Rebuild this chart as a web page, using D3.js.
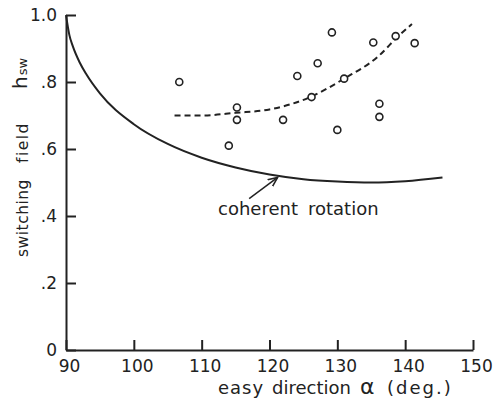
<!DOCTYPE html>
<html>
<head>
<meta charset="utf-8">
<script src="https://cdn.jsdelivr.net/npm/d3@7"></script>
<style>
  body { margin: 0; background: #fff; }
  text { font-family: "DejaVu Sans", sans-serif; fill: #222; }
</style>
</head>
<body>
<script>
// axis ticks
var xTicks = [90, 100, 110, 120, 130, 140, 150];
var yTicks = [0, 0.2, 0.4, 0.6, 0.8, 1.0];
var yTickLabels = ["0", ".2", ".4", ".6", ".8", "1.0"];

// coherent rotation curve (solid)
var crAlpha = [90, 90.5, 91, 92, 93, 95, 100, 105, 110, 115, 120, 125, 130, 135, 140, 145.5];
var crH = [1.0, 0.94, 0.907, 0.859, 0.823, 0.766, 0.674, 0.615, 0.574, 0.545, 0.524, 0.51, 0.503, 0.50, 0.504, 0.515];

// dashed fit through the measurements
var fitAlpha = [106, 110, 115, 120, 126, 131, 136, 139, 141];
var fitH = [0.70, 0.70, 0.708, 0.718, 0.755, 0.81, 0.876, 0.937, 0.973];

// measured points (open circles)
var ptAlpha = [106.7, 115.2, 115.2, 114.0, 122.0, 124.1, 126.2, 127.1, 129.2, 130.0, 131.0, 135.3, 136.2, 136.2, 138.6, 141.4];
var ptH = [0.80, 0.724, 0.687, 0.61, 0.687, 0.818, 0.755, 0.856, 0.948, 0.657, 0.81, 0.918, 0.735, 0.696, 0.937, 0.916];

var width = 495, height = 404;

var svg = d3.select("body")
            .append("svg")
            .attr("width", width)
            .attr("height", height);

var xScale = d3.scaleLinear().domain([90, 150]).range([66, 473]);
var yScale = d3.scaleLinear().domain([0, 1]).range([350, 15]);

// y axis, ticks pointing inward
var yAxis = d3.axisLeft(yScale)
              .tickValues(yTicks)
              .tickFormat(function(d, i) { return yTickLabels[i]; })
              .tickSize(-10)
              .tickSizeOuter(0)
              .tickPadding(9);

var gy = svg.append("g")
   .attr("transform", "translate(" + xScale(90) + ",0)")
   .call(yAxis);

// x axis, ticks pointing up
var xAxis = d3.axisBottom(xScale)
              .tickValues(xTicks)
              .tickSize(-10)
              .tickSizeOuter(0)
              .tickPadding(10);

var gx = svg.append("g")
   .attr("transform", "translate(0," + yScale(0) + ")")
   .call(xAxis);

svg.selectAll(".domain, .tick line")
   .attr("stroke", "#222")
   .attr("stroke-width", 2);

svg.selectAll(".tick text")
   .attr("font-family", "'Liberation Sans', Arial, sans-serif")
   .attr("font-size", 17)
   .attr("fill", "#222");
gx.selectAll("text").attr("dx", 3);

// curves
var crData = crAlpha.map(function(a, i) { return [a, crH[i]]; });
var fitData = fitAlpha.map(function(a, i) { return [a, fitH[i]]; });

var line = d3.line()
             .x(function(d) { return xScale(d[0]); })
             .y(function(d) { return yScale(d[1]); })
             .curve(d3.curveMonotoneX);

svg.append("path")
   .datum(crData)
   .attr("d", line)
   .attr("fill", "none")
   .attr("stroke", "#222")
   .attr("stroke-width", 2);

svg.append("path")
   .datum(fitData)
   .attr("d", line)
   .attr("fill", "none")
   .attr("stroke", "#222")
   .attr("stroke-width", 2)
   .attr("stroke-dasharray", "6,4");

// points
svg.selectAll("circle")
   .data(ptAlpha)
   .enter()
   .append("circle")
   .attr("cx", function(d) { return xScale(d); })
   .attr("cy", function(d, i) { return yScale(ptH[i]); })
   .attr("r", 3.5)
   .attr("fill", "#fff")
   .attr("stroke", "#222")
   .attr("stroke-width", 1.6);

// arrow to the coherent rotation curve
svg.append("defs").append("marker")
   .attr("id", "arr")
   .attr("viewBox", "0 0 10 10")
   .attr("refX", 9).attr("refY", 5)
   .attr("markerWidth", 7).attr("markerHeight", 7)
   .attr("orient", "auto")
   .append("path")
   .attr("d", "M0,1 L9,5 L0,9")
   .attr("fill", "none")
   .attr("stroke", "#222")
   .attr("stroke-width", 1.5);

svg.append("line")
   .attr("x1", xScale(117)).attr("y1", yScale(0.452))
   .attr("x2", xScale(121.2)).attr("y2", yScale(0.515))
   .attr("stroke", "#222")
   .attr("stroke-width", 1.5)
   .attr("marker-end", "url(#arr)");

var cr = svg.append("text").attr("y", 215).attr("font-size", 18);
cr.append("tspan").attr("x", 218).text("coherent");
cr.append("tspan").attr("x", 308).text("rotation");

// x axis title
var xt = svg.append("text").attr("y", 394).attr("font-size", 18);
xt.append("tspan").attr("x", 218).attr("letter-spacing", 1).text("easy");
xt.append("tspan").attr("x", 272).text("direction");
xt.append("tspan").attr("x", 360).attr("font-size", 22).text("\u03b1");
xt.append("tspan").attr("x", 387).attr("letter-spacing", 2).text("(deg.)");

// y axis title, rotated
svg.append("text")
   .attr("transform", "translate(28,257) rotate(-90)")
   .attr("font-size", 15.5)
   .attr("letter-spacing", 0.5)
   .text("switching");

svg.append("text")
   .attr("transform", "translate(28,163) rotate(-90)")
   .attr("font-size", 15.5)
   .attr("letter-spacing", 1.5)
   .text("field");

var hsw = svg.append("text")
   .attr("transform", "translate(27,89) rotate(-90)");
hsw.append("tspan").attr("font-size", 20).text("h");
hsw.append("tspan").attr("font-size", 13).attr("dx", 1).text("sw");
</script>
</body>
</html>
